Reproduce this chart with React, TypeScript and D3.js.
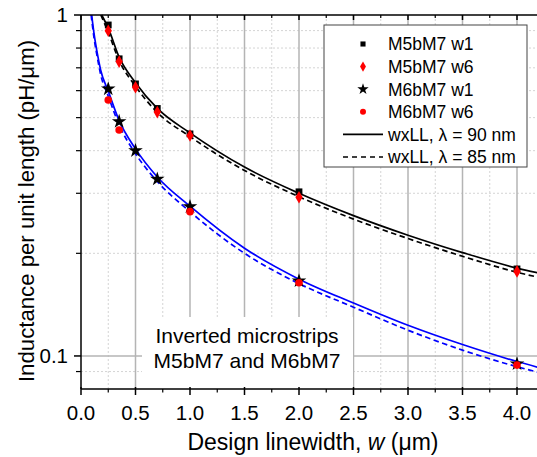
import React from "react";
import * as d3 from "d3";

// ---- data ----
const widthsW1 = [0.25, 0.35, 0.5, 0.7, 1.0, 2.0, 4.0];
const m5bm7W1 = [0.935, 0.744, 0.628, 0.532, 0.448, 0.303, 0.180];
const m5bm7W6 = [0.899, 0.730, 0.614, 0.519, 0.443, 0.292, 0.177];
const m6bm7W1 = [0.607, 0.487, 0.400, 0.330, 0.274, 0.166, 0.0948];
const widthsW6 = [0.25, 0.35, 1.0, 2.0, 4.0];
const m6bm7W6 = [0.563, 0.460, 0.265, 0.164, 0.094];

// model curves
const fitBlackW = [0.19, 0.25, 0.35, 0.5, 0.7, 1.0, 1.5, 2.0, 2.5, 3.0, 3.5, 4.0, 4.2];
const fitBlack90 = [1.0, 0.915, 0.752, 0.633, 0.532, 0.451, 0.358, 0.300, 0.258, 0.226, 0.201, 0.181, 0.175];
const fitBlackW85 = [0.182, 0.25, 0.35, 0.5, 0.7, 1.0, 1.5, 2.0, 2.5, 3.0, 3.5, 4.0, 4.2];
const fitBlack85 = [1.0, 0.89, 0.735, 0.618, 0.518, 0.44, 0.35, 0.293, 0.252, 0.221, 0.196, 0.176, 0.170];
const fitBlueW = [0.098, 0.12, 0.15, 0.18, 0.25, 0.35, 0.5, 0.7, 1.0, 1.5, 2.0, 2.5, 3.0, 3.5, 4.0, 4.2];
const fitBlue90 = [1.0, 0.88, 0.77, 0.69, 0.598, 0.49, 0.405, 0.335, 0.275, 0.207, 0.168, 0.143, 0.123, 0.108, 0.0963, 0.0925];
const fitBlueW85 = [0.093, 0.12, 0.15, 0.18, 0.25, 0.35, 0.5, 0.7, 1.0, 1.5, 2.0, 2.5, 3.0, 3.5, 4.0, 4.2];
const fitBlue85 = [1.0, 0.855, 0.75, 0.67, 0.578, 0.476, 0.392, 0.325, 0.265, 0.2, 0.163, 0.139, 0.119, 0.104, 0.093, 0.0895];

const xMajor = [0, 0.5, 1.0, 1.5, 2.0, 2.5, 3.0, 3.5, 4.0];
const xMinor = [0.25, 0.75, 1.25, 1.75, 2.25, 2.75, 3.25, 3.75];
const yMajor = [0.1, 1];
const yMinor = [0.09, 0.2, 0.3, 0.4, 0.5, 0.6, 0.7, 0.8, 0.9];

const legendLabels = ["M5bM7 w1", "M5bM7 w6", "M6bM7 w1", "M6bM7 w6", "wxLL, \u03bb = 90 nm", "wxLL, \u03bb = 85 nm"];

const FONT = "'Liberation Sans', Arial, sans-serif";

export default function App() {
  const W = 537, H = 457;
  const left = 81, top = 15, bottom = 389;
  const x = d3.scaleLinear().domain([0, 4.2]).range([left, left + 4.2 * 109]);
  const y = d3.scaleLog().domain([0.08, 1]).range([bottom, top]);
  const right = W;

  const line = (ws: number[], vs: number[]) =>
    d3.line<number>().x((_, i) => x(ws[i])).y((v) => y(v)).curve(d3.curveMonotoneX)(vs) || "";

  const sq = d3.symbol().type(d3.symbolSquare).size(46)()!;
  const dia = d3.symbol().type(d3.symbolDiamond).size(46)()!;
  const star = d3.symbol().type(d3.symbolStar).size(66)()!;
  const sqL = d3.symbol().type(d3.symbolSquare).size(26)()!;
  const diaL = d3.symbol().type(d3.symbolDiamond).size(30)()!;
  const starL = d3.symbol().type(d3.symbolStar).size(40)()!;

  const legY = (i: number) => 44 + i * 22.6;

  return (
    <svg width={W} height={H} style={{ position: "absolute", left: 0, top: 0, background: "#fff" }} fontFamily={FONT}>
      <rect x={0} y={0} width={W} height={H} fill="#fff" />
      {/* gridlines */}
      {yMinor.map((v) => (
        <line key={"hy" + v} x1={left} x2={right} y1={y(v)} y2={y(v)} stroke="#d4d4d4" strokeWidth={1} strokeDasharray="2,2" />
      ))}
      {xMinor.map((v) => (
        <line key={"vx" + v} x1={x(v)} x2={x(v)} y1={top} y2={bottom} stroke="#d4d4d4" strokeWidth={1} strokeDasharray="2,2" />
      ))}
      <line x1={left} x2={right} y1={y(0.1)} y2={y(0.1)} stroke="#b4b4b4" strokeWidth={1.5} />
      {xMajor.filter((v) => v > 0).map((v) => (
        <line key={"vX" + v} x1={x(v)} x2={x(v)} y1={top} y2={bottom} stroke="#b4b4b4" strokeWidth={1.5} />
      ))}

      {/* annotation box */}
      <rect x={142} y={317} width={211} height={bottom - 317} fill="#fff" />
      <text x={247} y={343} fontSize={21} textAnchor="middle">Inverted microstrips</text>
      <text x={247} y={368} fontSize={21} textAnchor="middle">M5bM7 and M6bM7</text>

      {/* curves */}
      <path d={line(fitBlackW, fitBlack90)} fill="none" stroke="#000" strokeWidth={1.7} />
      <path d={line(fitBlackW85, fitBlack85)} fill="none" stroke="#000" strokeWidth={1.7} strokeDasharray="5.5,3.5" />
      <path d={line(fitBlueW, fitBlue90)} fill="none" stroke="#0000ff" strokeWidth={1.7} />
      <path d={line(fitBlueW85, fitBlue85)} fill="none" stroke="#0000ff" strokeWidth={1.7} strokeDasharray="5.5,3.5" />

      {/* markers */}
      {widthsW1.map((w, i) => (
        <path key={"a" + i} d={sq} transform={`translate(${x(w)},${y(m5bm7W1[i])})`} fill="#000" />
      ))}
      {widthsW1.map((w, i) => (
        <path key={"b" + i} d={dia} transform={`translate(${x(w)},${y(m5bm7W6[i])})`} fill="#ff0000" />
      ))}
      {widthsW1.map((w, i) => (
        <path key={"c" + i} d={star} transform={`translate(${x(w)},${y(m6bm7W1[i])})`} fill="#000" />
      ))}
      {widthsW6.map((w, i) => (
        <circle key={"d" + i} cx={x(w)} cy={y(m6bm7W6[i])} r={3.8} fill="#ff0000" />
      ))}

      {/* axes */}
      <line x1={left} x2={right} y1={top} y2={top} stroke="#000" strokeWidth={1.5} />
      <line x1={left} x2={right} y1={bottom} y2={bottom} stroke="#000" strokeWidth={1.5} />
      <line x1={left} x2={left} y1={top} y2={bottom} stroke="#000" strokeWidth={1.5} />
      {xMajor.map((v) => (
        <g key={"xt" + v}>
          <line x1={x(v)} x2={x(v)} y1={bottom - 2} y2={bottom + 6} stroke="#000" strokeWidth={1.5} />
          <line x1={x(v)} x2={x(v)} y1={top} y2={top + 5} stroke="#000" strokeWidth={1.5} />
          <text x={x(v)} y={420} fontSize={20.5} textAnchor="middle">{d3.format(".1f")(v)}</text>
        </g>
      ))}
      {xMinor.map((v) => (
        <g key={"xm" + v}>
          <line x1={x(v)} x2={x(v)} y1={bottom} y2={bottom + 3.5} stroke="#000" strokeWidth={1.2} />
          <line x1={x(v)} x2={x(v)} y1={top} y2={top + 3} stroke="#000" strokeWidth={1.2} />
        </g>
      ))}
      {yMajor.map((v) => (
        <g key={"yt" + v}>
          <line x1={left - 7} x2={left} y1={y(v)} y2={y(v)} stroke="#000" strokeWidth={1.5} />
          <text x={68} y={y(v)} dy="0.36em" fontSize={20.5} textAnchor="end">{String(v)}</text>
        </g>
      ))}
      {yMinor.map((v) => (
        <line key={"ym" + v} x1={left - 5} x2={left} y1={y(v)} y2={y(v)} stroke="#000" strokeWidth={1.2} />
      ))}

      {/* axis titles */}
      <text x={313} y={450} fontSize={23} textAnchor="middle">
        Design linewidth, <tspan fontStyle="italic">w</tspan> ({"\u03bc"}m)
      </text>
      <text transform={`translate(34,211) rotate(-90)`} fontSize={22.2} textAnchor="middle">
        Inductance per unit length (pH/{"\u03bc"}m)
      </text>

      {/* legend */}
      <rect x={324} y={25} width={203} height={142} fill="#fff" stroke="#444" strokeWidth={1} />
      <path d={sqL} transform={`translate(363,${legY(0)})`} fill="#000" />
      <path d={diaL} transform={`translate(363,${legY(1)})`} fill="#ff0000" />
      <path d={starL} transform={`translate(363,${legY(2)})`} fill="#000" />
      <circle cx={363} cy={legY(3)} r={3} fill="#ff0000" />
      <line x1={343} x2={383} y1={legY(4)} y2={legY(4)} stroke="#000" strokeWidth={1.7} />
      <line x1={343} x2={383} y1={legY(5)} y2={legY(5)} stroke="#000" strokeWidth={1.7} strokeDasharray="5,4" />
      {legendLabels.map((t, i) => (
        <text key={t} x={388} y={legY(i)} dy="0.36em" fontSize={17.5}>{t}</text>
      ))}
    </svg>
  );
}
